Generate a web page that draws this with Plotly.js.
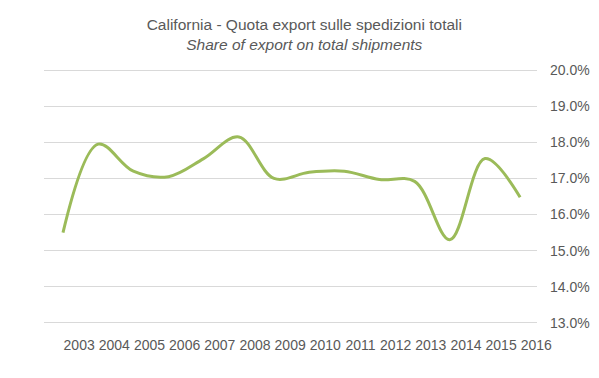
<!DOCTYPE html>
<html>
<head>
<meta charset="utf-8">
<script src="https://cdn.plot.ly/plotly-3.0.1.min.js"></script>
<style>html,body{margin:0;padding:0;background:#fff;}#chart{width:599px;height:378px;}</style>
</head>
<body>
<div id="chart"></div>
<script>
var years = [2003, 2004, 2005, 2006, 2007, 2008, 2009, 2010, 2011, 2012, 2013, 2014, 2015, 2016];
var exportShare = [15.5, 17.95, 17.2, 17.05, 17.55, 18.15, 17.0, 17.17, 17.2, 16.97, 16.92, 15.3, 17.55, 16.48];
var yTicks = [13, 14, 15, 16, 17, 18, 19, 20];
var yTickLabels = ['13.0%', '14.0%', '15.0%', '16.0%', '17.0%', '18.0%', '19.0%', '20.0%'];
var titleLine1 = 'California - Quota export sulle spedizioni totali';
var titleLine2 = 'Share of export on total shipments';

var textColor = '#595959';
var font = 'Liberation Sans, Arial, sans-serif';

var trace = {
  x: years,
  y: exportShare,
  type: 'scatter',
  mode: 'lines',
  line: {color: '#9bbb59', width: 3, shape: 'spline', smoothing: 1},
  hoverinfo: 'x+y'
};

var layout = {
  width: 599,
  height: 378,
  margin: {l: 44, r: 62, t: 68, b: 53},
  paper_bgcolor: '#ffffff',
  plot_bgcolor: '#ffffff',
  showlegend: false,
  font: {family: font, color: textColor, size: 14},
  title: {
    text: titleLine1 + '<br><i>' + titleLine2 + '</i>',
    font: {family: font, size: 15.5, color: textColor},
    x: 0.508, xanchor: 'center',
    y: 0.921, yanchor: 'top'
  },
  xaxis: {
    range: [2002.46, 2016.48],
    tickmode: 'array',
    tickvals: years.map(function (v) { return v + 0.46; }),
    ticktext: years.map(String),
    showgrid: false,
    zeroline: false,
    showline: false,
    ticks: '',
    ticklabelstandoff: 10,
    tickfont: {family: font, size: 14, color: textColor},
    fixedrange: true
  },
  yaxis: {
    side: 'right',
    range: [12.94, 20.06],
    tickmode: 'array',
    tickvals: yTicks,
    ticktext: yTickLabels,
    showgrid: true,
    gridcolor: '#d9d9d9',
    gridwidth: 1,
    zeroline: false,
    showline: false,
    ticks: '',
    ticklabelstandoff: 12,
    tickfont: {family: font, size: 14, color: textColor},
    fixedrange: true
  }
};

Plotly.newPlot('chart', [trace], layout, {displayModeBar: false, staticPlot: true});
</script>
</body>
</html>
